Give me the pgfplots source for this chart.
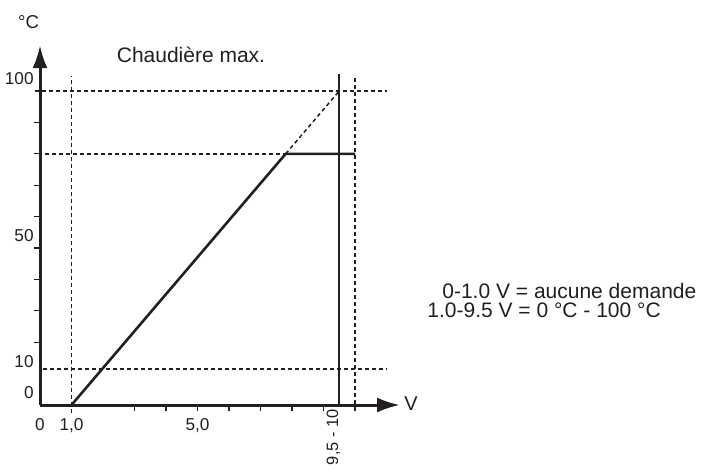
\documentclass[border=0pt]{standalone}
\usepackage{pgfplots}
\pgfplotsset{compat=1.18}
\usepackage{fontspec}
\setmainfont{Liberation Sans}
\usetikzlibrary{arrows.meta}
\definecolor{ink}{HTML}{231F20}
\begin{document}
\begin{tikzpicture}
\begin{axis}[
  anchor=origin, at={(0pt,0pt)},
  x=15.75pt, y=1.57pt,
  xmin=0, xmax=11.43, ymin=0, ymax=114.6,
  axis lines=left,
  axis line style={ink, line width=1.5pt, -{Latex[length=11.5pt,width=7.5pt]}},
  clip=false,
  tick align=outside,
  major tick length=0pt,
  minor tick length=3pt,
  xtick={0,1,5}, xticklabels={0,{1,0},{5,0}},
  minor xtick={3,4,5,6,7,8,9},
  ytick={0,10,50,100},
  minor ytick={20,30,40,50,60,70,80,90},
  every minor tick/.style={ink, line width=0.6pt},
  /pgf/number format/assume math mode=true,
  ticklabel style={font=\fontsize{8.6}{10}\selectfont, text=ink},
  yticklabel style={anchor=south east, inner sep=0pt, xshift=-3pt, yshift=3pt},
  xticklabel style={anchor=north, inner sep=0pt, yshift=-6.5pt},
]
\addplot[ink, line width=1.3pt] coordinates {(1,0) (7.8,80) (10,80)};
\addplot[ink, line width=0.75pt, dash pattern=on 2pt off 1.5pt] coordinates {(7.8,80) (9.5,100)};
\addplot[ink, line width=0.8pt] coordinates {(9.5,0) (9.5,105.5)};
\addplot[ink, line width=0.85pt, dash pattern=on 2pt off 1.5pt] coordinates {(1,-2.5) (1,104.8)};
\addplot[ink, line width=0.85pt, dash pattern=on 2pt off 1.5pt] coordinates {(10,-2) (10,104.8)};
\addplot[ink, line width=0.75pt, dash pattern=on 2pt off 1.5pt] coordinates {(-0.16,100) (11.0,100)};
\addplot[ink, line width=0.75pt, dash pattern=on 2pt off 1.5pt] coordinates {(0.16,80) (7.8,80)};
\addplot[ink, line width=0.75pt, dash pattern=on 2pt off 1.5pt] coordinates {(0.1,11.5) (11.0,11.5)};
\end{axis}
\node[inner sep=0pt, text=ink, font=\fontsize{9.3}{10}\selectfont] at (-5.75pt,191.65pt) {°C};
\node[inner sep=0pt, text=ink, anchor=base, font=\fontsize{10.5}{12}\selectfont] at (75.5pt,171.5pt) {Chaudière max.};
\node[inner sep=0pt, text=ink, anchor=base west, font=\fontsize{10}{12}\selectfont] at (182pt,-2.5pt) {V};
\node[inner sep=0pt, text=ink, anchor=base west, font=\fontsize{10.5}{12}\selectfont] at (201pt,53.5pt) {0-1.0 V = aucune demande};
\node[inner sep=0pt, text=ink, anchor=base west, font=\fontsize{10.5}{12}\selectfont] at (193.5pt,43.6pt) {1.0-9.5 V = 0 °C - 100 °C};
\node[inner sep=0pt, text=ink, anchor=base east, rotate=90, font=\fontsize{8.2}{10}\selectfont] at (149pt,-2pt) {9,5 - 10};
\pgfresetboundingbox
\useasboundingbox (-20pt,-31.5pt) rectangle (331pt,202.5pt);
\end{tikzpicture}
\end{document}
